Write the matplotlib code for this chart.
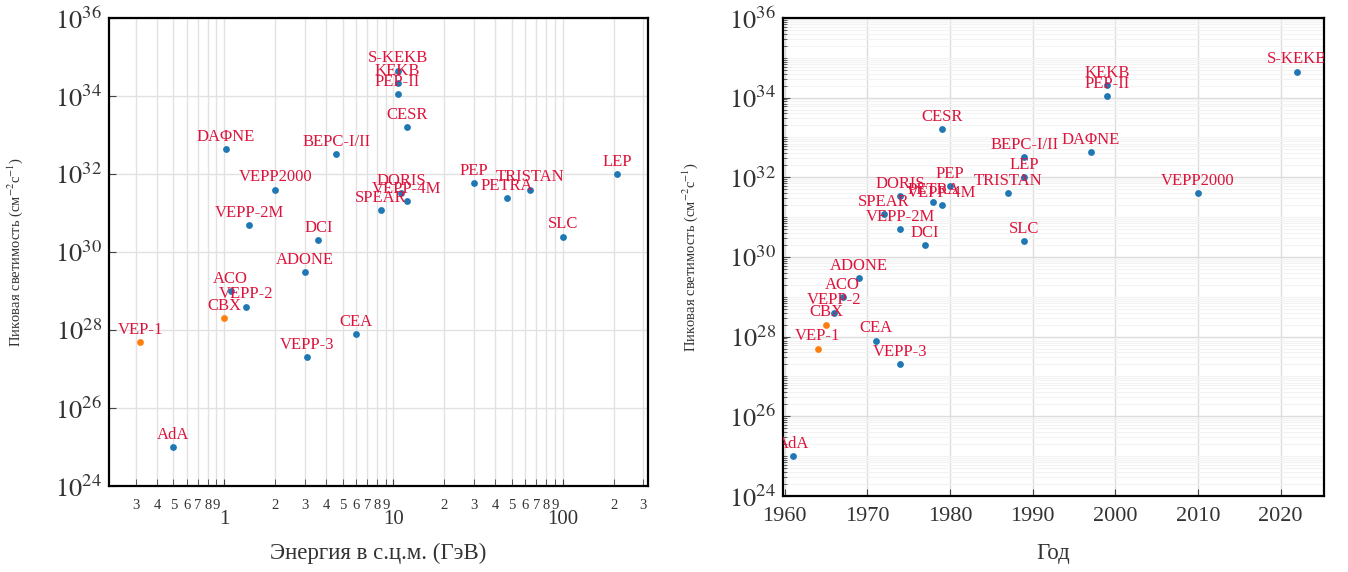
import matplotlib
matplotlib.use("Agg")
import matplotlib.pyplot as plt
import numpy as np
from matplotlib.ticker import FixedLocator, FuncFormatter, LogLocator, MultipleLocator, NullLocator

plt.rcParams['font.family'] = ['Liberation Serif', 'DejaVu Serif']
plt.rcParams['mathtext.fontset'] = 'stix'

# collider data
names = ['AdA', 'VEP-1', 'CBX', 'VEPP-2', 'ACO', 'ADONE', 'CEA', 'SPEAR', 'VEPP-3',
         'VEPP-2M', 'DORIS', 'DCI', 'PETRA', 'CESR', 'VEPP-4M', 'PEP', 'TRISTAN',
         'LEP', 'SLC', 'BEPC-I/II', 'DAΦNE', 'KEKB', 'PEP-II', 'VEPP2000', 'S-KEKB']
energy = [0.5, 0.32, 1.0, 1.34, 1.09, 3.0, 6.0, 8.4, 3.1,
          1.4, 11.1, 3.6, 46.6, 12.0, 12.0, 30.0, 64.0,
          209.0, 100.0, 4.6, 1.02, 10.58, 10.58, 2.0, 10.58]
lumi = [1e25, 5e27, 2e28, 4e28, 1e29, 3e29, 8e27, 1.2e31, 2e27,
        5e30, 3.3e31, 2e30, 2.4e31, 1.6e33, 2e31, 6e31, 4e31,
        1e32, 2.5e30, 3.2e32, 4.4e32, 2.1e34, 1.1e34, 4e31, 4.5e34]
year = [1961, 1964, 1965, 1966, 1967, 1969, 1971, 1972, 1974,
        1974, 1974, 1977, 1978, 1979, 1979, 1980, 1987,
        1989, 1989, 1989, 1997, 1999, 1999, 2010, 2022]
e_minus = ['VEP-1', 'CBX']  # electron-electron machines, drawn in orange

ylab = 'Пиковая светимость (см$^{-2}$с$^{-1}$)'
lab_color = '#dc143c'
tick_color = '#444444'

fig = plt.figure(figsize=(13.48, 5.72), dpi=100)
ax1 = fig.add_axes([0.0809, 0.1503, 0.3999, 0.8182])
ax2 = fig.add_axes([0.5806, 0.1329, 0.4013, 0.8357])


def draw(ax, xs):
    for n, x, y in zip(names, xs, lumi):
        c = '#ff7f0e' if n in e_minus else '#1f77b4'
        ax.scatter(x, y, s=24, color=c, zorder=3, linewidths=0)
        ax.annotate(n, (x, y), xytext=(0, 3), textcoords='offset points',
                    ha='center', va='bottom', color=lab_color, fontsize=12,
                    clip_on=True, zorder=4)


def ylog(ax):
    ax.set_yscale('log')
    ax.set_ylim(1e24, 1e36)
    ax.yaxis.set_major_locator(FixedLocator(10.0 ** np.arange(24, 37, 2)))
    ax.yaxis.set_major_formatter(FuncFormatter(lambda v, p: r'$10^{%d}$' % round(np.log10(v))))
    ax.tick_params(axis='y', which='major', direction='in', length=5, labelsize=19,
                   pad=5, color=tick_color, labelcolor='#333333')
    for s in ax.spines.values():
        s.set_linewidth(1.6)
        s.set_color('black')
    ax.set_axisbelow(True)


# left: luminosity vs energy
draw(ax1, energy)
ax1.set_xscale('log')
ax1.set_xlim(0.2086, 320)
ylog(ax1)
ax1.yaxis.set_minor_locator(NullLocator())
ax1.xaxis.set_major_locator(FixedLocator([1, 10, 100]))
ax1.xaxis.set_minor_locator(LogLocator(base=10, subs=np.arange(2, 10), numticks=30))
ax1.xaxis.set_major_formatter(FuncFormatter(lambda v, p: '%g' % v))
ax1.xaxis.set_minor_formatter(FuncFormatter(
    lambda v, p: str(int(round(v / 10 ** np.floor(np.log10(v) + 1e-9))))))
ax1.tick_params(axis='x', which='major', direction='in', length=5, labelsize=15,
                pad=17, color=tick_color, labelcolor='#333333')
ax1.tick_params(axis='x', which='minor', direction='in', length=5, labelsize=10.5,
                pad=9, color=tick_color, labelcolor='#333333')
ax1.grid(axis='x', which='both', color='#e2e2e2', lw=1)
ax1.grid(axis='y', which='major', color='#e2e2e2', lw=1)
ax1.set_xlabel('Энергия в с.ц.м. (ГэВ)', fontsize=16.5, color='#333333')
ax1.xaxis.set_label_coords(0.5, -0.121)
ax1.set_ylabel(ylab, fontsize=10.5, color='#333333')
ax1.yaxis.set_label_coords(-0.156, 0.5)

# right: luminosity vs year
draw(ax2, year)
ax2.set_xlim(1959.75, 2025.2)
ylog(ax2)
minor = [k * 10.0 ** n for n in range(24, 36) for k in range(1, 10) if not (k == 1 and n % 2 == 0)]
ax2.yaxis.set_minor_locator(FixedLocator(minor))
ax2.yaxis.set_minor_formatter(FuncFormatter(lambda v, p: ''))
ax2.tick_params(axis='y', which='minor', direction='in', length=3, color=tick_color)
ax2.xaxis.set_major_locator(MultipleLocator(10))
ax2.tick_params(axis='x', which='major', direction='in', length=5, labelsize=16,
                pad=8, color=tick_color, labelcolor='#333333')
ax2.grid(axis='y', which='minor', color='#f3f3f3', lw=0.8)
ax2.grid(axis='both', which='major', color='#dcdcdc', lw=1)
ax2.set_xlabel('Год', fontsize=16.5, color='#333333')
ax2.xaxis.set_label_coords(0.5, -0.099)
ax2.set_ylabel(ylab, fontsize=10.5, color='#333333')
ax2.yaxis.set_label_coords(-0.153, 0.5)

fig.savefig('out.png', dpi=100)
